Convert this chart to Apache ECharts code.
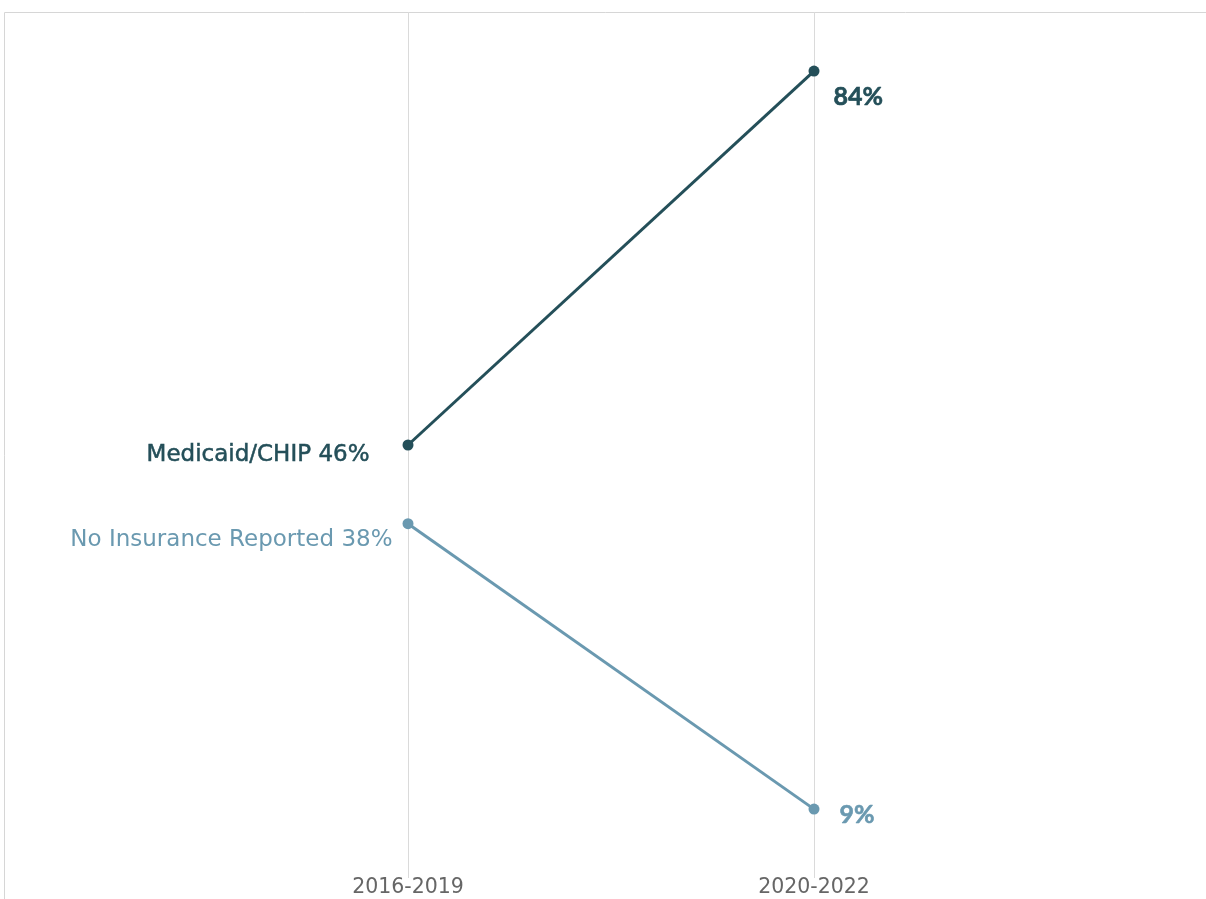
<!DOCTYPE html>
<html>
<head>
<meta charset="utf-8">
<script src="https://cdn.jsdelivr.net/npm/echarts@6/dist/echarts.min.js"></script>
<style>
html, body {margin:0; padding:0; background:#fff;}
#echartDiv {width:1206px; height:899px;}
</style>
</head>
<body>
<div id="echartDiv"></div>
<script>
var periods = ['2016-2019', '2020-2022'];
var seriesNames = ['Medicaid/CHIP', 'No Insurance Reported'];
var medicaidData = [46, 84];
var noInsuranceData = [38, 9];
var colorsArr = ['#244f59', '#6a99b0'];

// left point: name + value, right point: value only
function leftLabel(name, color, dist, offsetY, heavy) {
	return {
		show: true,
		position: 'left',
		distance: dist,
		offset: [0, offsetY],
		color: color,
		fontFamily: 'DejaVu Sans',
		fontSize: 23,
		textBorderColor: color,
		textBorderWidth: heavy,
		formatter: function(p) {
			return name + ' ' + p.value + '%';
		}
	};
}

function rightLabel(color, dist, offsetY) {
	return {
		show: true,
		position: 'right',
		distance: dist,
		offset: [0, offsetY],
		color: color,
		fontFamily: 'Lato',
		fontSize: 25,
		fontWeight: 'bold',
		textBorderColor: color,
		textBorderWidth: 0.6,
		formatter: '{c}%'
	};
}

function buildSeries(idx, data, lDist, lOff, heavy, rDist, rOff) {
	var color = colorsArr[idx];
	var name = seriesNames[idx];
	return {
		name: name,
		type: 'line',
		data: [
			{value: data[0], label: leftLabel(name, color, lDist, lOff, heavy)},
			{value: data[1], label: rightLabel(color, rDist, rOff)}
		],
		symbol: 'circle',
		symbolSize: 11,
		lineStyle: {color: color, width: 3},
		itemStyle: {color: color},
		emphasis: {disabled: true}
	};
}

var myChart = echarts.init(document.getElementById('echartDiv'));
var option = {
	animation: false,
	grid: {left: 408, right: 392, top: 12, bottom: 21},
	xAxis: {
		type: 'category',
		boundaryGap: false,
		data: periods,
		axisLine: {show: false},
		axisTick: {show: false},
		axisLabel: {color: '#666', fontFamily: 'DejaVu Sans', fontSize: 20.5, margin: -1},
		splitLine: {show: true, lineStyle: {color: '#dadada', width: 1}}
	},
	yAxis: {
		type: 'value',
		min: 2,
		max: 90,
		show: false
	},
	graphic: [
		{type: 'line', shape: {x1: 4.5, y1: 12.5, x2: 1206, y2: 12.5}, style: {stroke: '#d6d6d6', lineWidth: 1}},
		{type: 'line', shape: {x1: 4.5, y1: 12.5, x2: 4.5, y2: 899}, style: {stroke: '#d6d6d6', lineWidth: 1}}
	],
	series: [
		buildSeries(0, medicaidData, 33, 10, 0.5, 14, 26),
		buildSeries(1, noInsuranceData, 10, 16, 0, 20, 6)
	]
};
myChart.setOption(option);
</script>
</body>
</html>
